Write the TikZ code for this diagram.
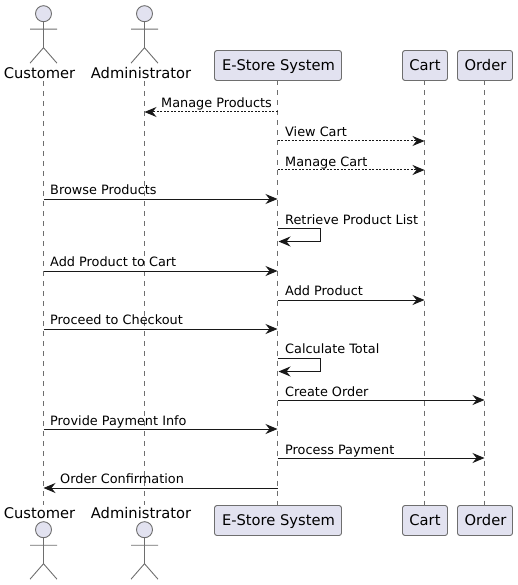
\documentclass[tikz,border=0pt]{standalone}
\usepackage{fontspec}
\setmainfont{DejaVu Sans}
\usetikzlibrary{arrows.meta}
\definecolor{ink}{HTML}{181818}
\definecolor{soft}{HTML}{6E6E6E}
\definecolor{part}{HTML}{E2E2F0}
\tikzset{
  x=1pt,y=-1pt,
  partbox/.style={draw=soft,fill=part,line width=0.9pt,rounded corners=2.5pt,minimum height=30pt,inner sep=0pt,anchor=center},
  boxname/.style={inner sep=0pt,anchor=base,font=\fontsize{14.7}{16}\selectfont,text=black},
  actorname/.style={inner sep=0pt,anchor=base,font=\fontsize{14.7}{16}\selectfont,text=black},
  head/.style={circle,draw=soft,fill=part,line width=0.9pt,minimum size=16pt,inner sep=0pt},
  limb/.style={draw=soft,line width=0.9pt},
  lifeline/.style={draw=soft,line width=0.9pt,dash pattern=on 5pt off 5pt},
  msg/.style={draw=ink,line width=1pt,-{Stealth[length=12pt,width=10pt,inset=4pt]}},
  reply/.style={msg,dash pattern=on 2pt off 1.5pt},
  msgtext/.style={inner sep=0pt,anchor=base west,font=\fontsize{12.85}{15}\selectfont,text=black}
}
\newcommand{\stickman}[3]{%
  \node[head] (#1) at (#2,#3) {};
  \coordinate (#1neck) at (#2,#3+8);
  \coordinate (#1hip) at (#2,#3+34);
  \coordinate (#1la) at (#2-13.5,#3+15.5);
  \coordinate (#1ra) at (#2+13.5,#3+15.5);
  \coordinate (#1ll) at (#2-13.5,#3+49.5);
  \coordinate (#1rl) at (#2+13.5,#3+49.5);
  \draw[limb] (#1neck) -- (#1hip) (#1la) -- (#1ra) (#1ll) -- (#1hip) -- (#1rl);
}
\begin{document}
\begin{tikzpicture}
\useasboundingbox (0,0) rectangle (517,585);
\coordinate (custA) at (43.5,81);
\coordinate (custB) at (43.5,505);
\coordinate (admA) at (144.5,81);
\coordinate (admB) at (144.5,505);
% participant boxes
\node[partbox,minimum width=127pt] (storeT) at (278,65.5) {};
\node[partbox,minimum width=127pt] (storeB) at (278,520.5) {};
\node[partbox,minimum width=45pt] (cartT) at (425,65.5) {};
\node[partbox,minimum width=45pt] (cartB) at (425,520.5) {};
\node[partbox,minimum width=55pt] (orderT) at (485,65.5) {};
\node[partbox,minimum width=55pt] (orderB) at (485,520.5) {};
\node[boxname] (storeTT) at (278.5,70.5) {E-Store System};
\node[boxname] (storeBT) at (278.5,525) {E-Store System};
\node[boxname] (cartTT) at (425,70.5) {Cart};
\node[boxname] (cartBT) at (425,525) {Cart};
\node[boxname] (orderTT) at (485.5,70.5) {Order};
\node[boxname] (orderBT) at (485.5,525) {Order};
% lifelines
\draw[lifeline] (custA) -- (custB);
\draw[lifeline] (admA) -- (admB);
\draw[lifeline] (277.5,80.5) -- (277.5,505.5);
\draw[lifeline] (424.5,80.5) -- (424.5,505.5);
\draw[lifeline] (484.5,80.5) -- (484.5,505.5);
% actors
\stickman{custH}{43.5}{13.7}
\stickman{admH}{144.5}{13.7}
\stickman{custF}{43.5}{529.7}
\stickman{admF}{144.5}{529.7}
\node[actorname] (custTT) at (39.5,78.3) {Customer};
\node[actorname] (admTT) at (141,78.3) {Administrator};
\node[actorname] (custBT) at (39.5,518) {Customer};
\node[actorname] (admBT) at (141,518) {Administrator};
% message end points
\foreach \n/\y in {a/112,b/141,c/170,d/199,e/271,f/300,g/329,h/400,i/429,j/458,k/488}{
  \coordinate (C\n) at (43.5,\y);
  \coordinate (A\n) at (144.5,\y);
  \coordinate (S\n) at (277.5,\y);
  \coordinate (K\n) at (424.5,\y);
  \coordinate (O\n) at (484.5,\y);
}
\coordinate (r1) at (277.5,228.5);
\coordinate (r1a) at (320.5,228.5);
\coordinate (r1b) at (320.5,241.5);
\coordinate (r1c) at (278.5,241.5);
\coordinate (r2) at (277.5,358.5);
\coordinate (r2a) at (320.5,358.5);
\coordinate (r2b) at (320.5,371.5);
\coordinate (r2c) at (278.5,371.5);
% messages
\draw[reply] (Sa) -- (Aa);
\node[msgtext] (ma) at (161,108) {Manage Products};
\draw[reply] (Sb) -- (Kb);
\node[msgtext] (mb) at (285,137) {View Cart};
\draw[reply] (Sc) -- (Kc);
\node[msgtext] (mc) at (285,166.5) {Manage Cart};
\draw[msg] (Cd) -- (Sd);
\node[msgtext] (md) at (50,195) {Browse Products};
\draw[msg] (r1) -- (r1a) -- (r1b) -- (r1c);
\node[msgtext] (mr1) at (285,224) {Retrieve Product List};
\draw[msg] (Ce) -- (Se);
\node[msgtext] (me) at (50,266.5) {Add Product to Cart};
\draw[msg] (Sf) -- (Kf);
\node[msgtext] (mf) at (285,295.5) {Add Product};
\draw[msg] (Cg) -- (Sg);
\node[msgtext] (mg) at (50,324.5) {Proceed to Checkout};
\draw[msg] (r2) -- (r2a) -- (r2b) -- (r2c);
\node[msgtext] (mr2) at (285,353.5) {Calculate Total};
\draw[msg] (Sh) -- (Oh);
\node[msgtext] (mh) at (285,396) {Create Order};
\draw[msg] (Ci) -- (Si);
\node[msgtext] (mi) at (50,425) {Provide Payment Info};
\draw[msg] (Sj) -- (Oj);
\node[msgtext] (mj) at (285,454) {Process Payment};
\draw[msg] (Sk) -- (Ck);
\node[msgtext] (mk) at (60,483) {Order Confirmation};
\end{tikzpicture}
\end{document}
